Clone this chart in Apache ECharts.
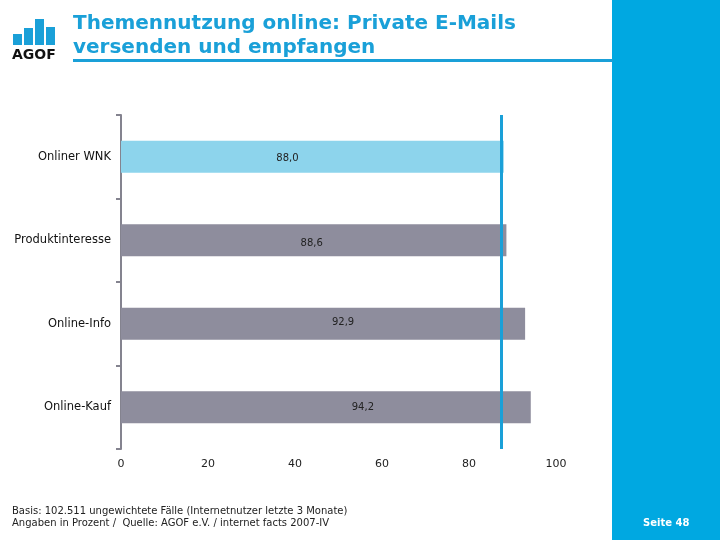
<!DOCTYPE html>
<html>
<head>
<meta charset="utf-8">
<script src="https://cdn.jsdelivr.net/npm/echarts@6/dist/echarts.min.js"></script>
<style>html,body{margin:0;padding:0;background:#fff}#c{width:720px;height:540px}</style>
</head>
<body>
<div id="c"></div>
<script>
// ---- data ----
var categories = ['Onliner WNK', 'Produktinteresse', 'Online-Info', 'Online-Kauf'];
var values = [88.0, 88.6, 92.9, 94.2];
var referenceValue = 87.4;
var xTicks = [0, 20, 40, 60, 80, 100];
var titleLines = ['Themennutzung online: Private E-Mails', 'versenden und empfangen'];
var footerLines = ['Basis: 102.511 ungewichtete F\u00e4lle (Internetnutzer letzte 3 Monate)',
                   'Angaben in Prozent /  Quelle: AGOF e.V. / internet facts 2007-IV'];
var pageLabel = 'Seite 48';

// ---- styles ----
var barColors = ['#8dd4ec', '#8e8d9d', '#8e8d9d', '#8e8d9d'];
var labelShift = [[-25, 2], [-2, 3], [20, -1], [37, 0]];
var blue = '#1aa0d8';
var panelBlue = '#00a8e1';
var axisGray = '#84838f';
var fontFam = '"DejaVu Sans", Verdana, sans-serif';

var chart = echarts.init(document.getElementById('c'), null, {renderer: 'canvas'});

var barData = values.map(function (v, i) {
  return {
    value: v,
    itemStyle: {color: barColors[i]},
    label: {offset: labelShift[i]}
  };
});

var logoBars = [[13, 34], [24, 28], [35, 19], [46, 27]];

chart.setOption({
  animation: false,
  backgroundColor: '#fff',
  grid: {left: 121, right: 164, top: 115, bottom: 91, containLabel: false},
  xAxis: {
    type: 'value', min: 0, max: 100, interval: 20,
    axisLine: {show: false}, axisTick: {show: false}, splitLine: {show: false},
    axisLabel: {margin: 10, color: '#222', fontSize: 11, fontFamily: fontFam,
      formatter: function (v) { return xTicks.indexOf(v) >= 0 ? String(v) : ''; }}
  },
  yAxis: {
    type: 'category', data: categories, inverse: true,
    axisLine: {show: true, lineStyle: {color: axisGray, width: 2}},
    axisTick: {show: true, length: 5, alignWithLabel: false, lineStyle: {color: axisGray, width: 2}},
    axisLabel: {margin: 10, color: '#111', fontSize: 11.5, fontFamily: fontFam}
  },
  series: [{
    type: 'bar',
    data: barData,
    barWidth: 32,
    label: {
      show: true, position: 'inside', color: '#222', fontSize: 10, fontFamily: fontFam,
      formatter: function (p) { return p.value.toFixed(1).replace('.', ','); }
    },
    markLine: {
      silent: true, symbol: 'none', label: {show: false},
      lineStyle: {color: blue, width: 3, type: 'solid'},
      data: [{xAxis: referenceValue}]
    }
  }],
  graphic: [
    {type: 'rect', shape: {x: 612, y: 0, width: 108, height: 540}, style: {fill: panelBlue}, z: 0},
    {type: 'rect', shape: {x: 73, y: 59, width: 540, height: 3}, style: {fill: blue}},
    {type: 'text', left: 73, top: 14, style: {text: titleLines[0], fill: blue, font: 'bold 20px ' + fontFam}},
    {type: 'text', left: 73, top: 38, style: {text: titleLines[1], fill: blue, font: 'bold 20px ' + fontFam}},
    {type: 'group', children: logoBars.map(function (b) {
      return {type: 'rect', shape: {x: b[0], y: b[1], width: 9, height: 45 - b[1]}, style: {fill: blue}};
    })},
    {type: 'text', left: 12, top: 48, style: {text: 'AGOF', fill: '#111', font: 'bold 14px ' + fontFam}},
    {type: 'text', left: 12, top: 506, style: {text: footerLines[0], fill: '#222', font: '10px ' + fontFam}},
    {type: 'text', left: 12, top: 518, style: {text: footerLines[1], fill: '#222', font: '10px ' + fontFam}},
    {type: 'text', left: 643, top: 518, style: {text: pageLabel, fill: '#fff', font: 'bold 10px ' + fontFam}}
  ]
});
</script>
</body>
</html>
